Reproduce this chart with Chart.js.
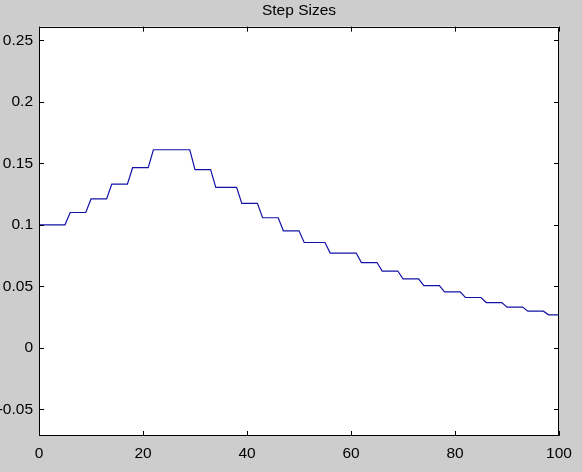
<!DOCTYPE html>
<html>
<head>
<meta charset="utf-8">
<script src="https://cdn.jsdelivr.net/npm/chart.js@4"></script>
<style>
  html, body { margin: 0; padding: 0; background: #cdcdcd; }
  #wrap { width: 582px; height: 472px; }
</style>
</head>
<body>
<div id="wrap"><canvas id="c" width="582" height="472"></canvas></div>
<script>
// Iteration index 0..100
const iterations = [
  0,1,2,3,4,5,6,7,8,9,10,11,12,13,14,15,16,17,18,19,20,
  21,22,23,24,25,26,27,28,29,30,31,32,33,34,35,36,37,38,39,40,
  41,42,43,44,45,46,47,48,49,50,51,52,53,54,55,56,57,58,59,60,
  61,62,63,64,65,66,67,68,69,70,71,72,73,74,75,76,77,78,79,80,
  81,82,83,84,85,86,87,88,89,90,91,92,93,94,95,96,97,98,99,100
];
// Step size read at each iteration
const stepSizes = [
  0.1, 0.1, 0.1, 0.1, 0.1, 0.1,
  0.11, 0.11, 0.11, 0.11,
  0.121, 0.121, 0.121, 0.121,
  0.1331, 0.1331, 0.1331, 0.1331,
  0.1464, 0.1464, 0.1464, 0.1464,
  0.161, 0.161, 0.161, 0.161, 0.161, 0.161, 0.161, 0.161,
  0.1449, 0.1449, 0.1449, 0.1449,
  0.1304, 0.1304, 0.1304, 0.1304, 0.1304,
  0.1174, 0.1174, 0.1174, 0.1174,
  0.1057, 0.1057, 0.1057, 0.1057,
  0.0951, 0.0951, 0.0951, 0.0951,
  0.0856, 0.0856, 0.0856, 0.0856, 0.0856,
  0.0770, 0.0770, 0.0770, 0.0770, 0.0770, 0.0770,
  0.0693, 0.0693, 0.0693, 0.0693,
  0.0624, 0.0624, 0.0624, 0.0624,
  0.0561, 0.0561, 0.0561, 0.0561,
  0.0505, 0.0505, 0.0505, 0.0505,
  0.0455, 0.0455, 0.0455, 0.0455,
  0.0409, 0.0409, 0.0409, 0.0409,
  0.0368, 0.0368, 0.0368, 0.0368,
  0.0331, 0.0331, 0.0331, 0.0331,
  0.0298, 0.0298, 0.0298, 0.0298,
  0.0268, 0.0268, 0.0268
];
const xTicks = [0, 20, 40, 60, 80, 100];
const yTicks = [-0.05, 0, 0.05, 0.1, 0.15, 0.2, 0.25];
const titleText = 'Step Sizes';

const FONT = '"Liberation Sans", Arial, Helvetica, sans-serif';

const framePlugin = {
  id: 'frame',
  beforeDraw(chart) {
    const ctx = chart.ctx, a = chart.chartArea;
    ctx.save();
    ctx.fillStyle = '#cdcdcd';
    ctx.fillRect(0, 0, chart.width, chart.height);
    ctx.fillStyle = '#ffffff';
    ctx.fillRect(a.left, a.top, a.right - a.left, a.bottom - a.top);
    ctx.restore();
  },
  afterDraw(chart) {
    const ctx = chart.ctx, a = chart.chartArea;
    const xs = chart.scales.x, ys = chart.scales.y;
    ctx.save();
    ctx.strokeStyle = '#000000';
    ctx.lineWidth = 1;
    ctx.beginPath();
    ctx.rect(Math.round(a.left) + 0.5, Math.round(a.top) + 0.5,
             Math.round(a.right - a.left) - 1, Math.round(a.bottom - a.top) - 1);
    ctx.stroke();
    const L = 5;
    ctx.beginPath();
    xTicks.forEach(v => {
      const px = Math.round(xs.getPixelForValue(v)) + 0.5;
      ctx.moveTo(px, a.bottom); ctx.lineTo(px, a.bottom - L);
      ctx.moveTo(px, a.top); ctx.lineTo(px, a.top + L);
    });
    yTicks.forEach(v => {
      const py = Math.round(ys.getPixelForValue(v)) + 0.5;
      ctx.moveTo(a.left, py); ctx.lineTo(a.left + L, py);
      ctx.moveTo(a.right, py); ctx.lineTo(a.right - L, py);
    });
    ctx.stroke();
    ctx.restore();
  }
};

new Chart(document.getElementById('c'), {
  type: 'line',
  data: {
    datasets: [{
      data: iterations.map((x, i) => ({ x: x, y: stepSizes[i] })),
      borderColor: '#1212a8',
      borderWidth: 1.2,
      pointRadius: 0,
      tension: 0,
      fill: false
    }]
  },
  options: {
    responsive: false,
    animation: false,
    devicePixelRatio: 1,
    layout: { padding: { left: 0, right: 23, top: 0, bottom: 0 } },
    plugins: {
      legend: { display: false },
      tooltip: { enabled: false },
      title: {
        display: true,
        fullSize: false,
        text: titleText,
        color: '#000000',
        font: { family: FONT, size: 15.5, weight: 'normal', lineHeight: 1.2 },
        padding: { top: 1, bottom: 7 }
      }
    },
    scales: {
      x: {
        type: 'linear',
        min: 0, max: 100,
        afterBuildTicks(s) { s.ticks = xTicks.map(v => ({ value: v })); },
        afterFit(s) { s.height = 36; },
        grid: { display: false, drawTicks: false },
        border: { display: false },
        ticks: {
          color: '#000000',
          padding: 8,
          maxRotation: 0,
          font: { family: FONT, size: 15.5 },
          callback: v => String(v)
        }
      },
      y: {
        type: 'linear',
        min: -0.0717, max: 0.2611,
        afterBuildTicks(s) { s.ticks = yTicks.map(v => ({ value: v })); },
        afterFit(s) { s.width = 39; },
        grid: { display: false, drawTicks: false },
        border: { display: false },
        ticks: {
          color: '#000000',
          padding: 6,
          font: { family: FONT, size: 15.5 },
          callback: v => String(Number(v.toFixed(2)))
        }
      }
    }
  },
  plugins: [framePlugin]
});
</script>
</body>
</html>
